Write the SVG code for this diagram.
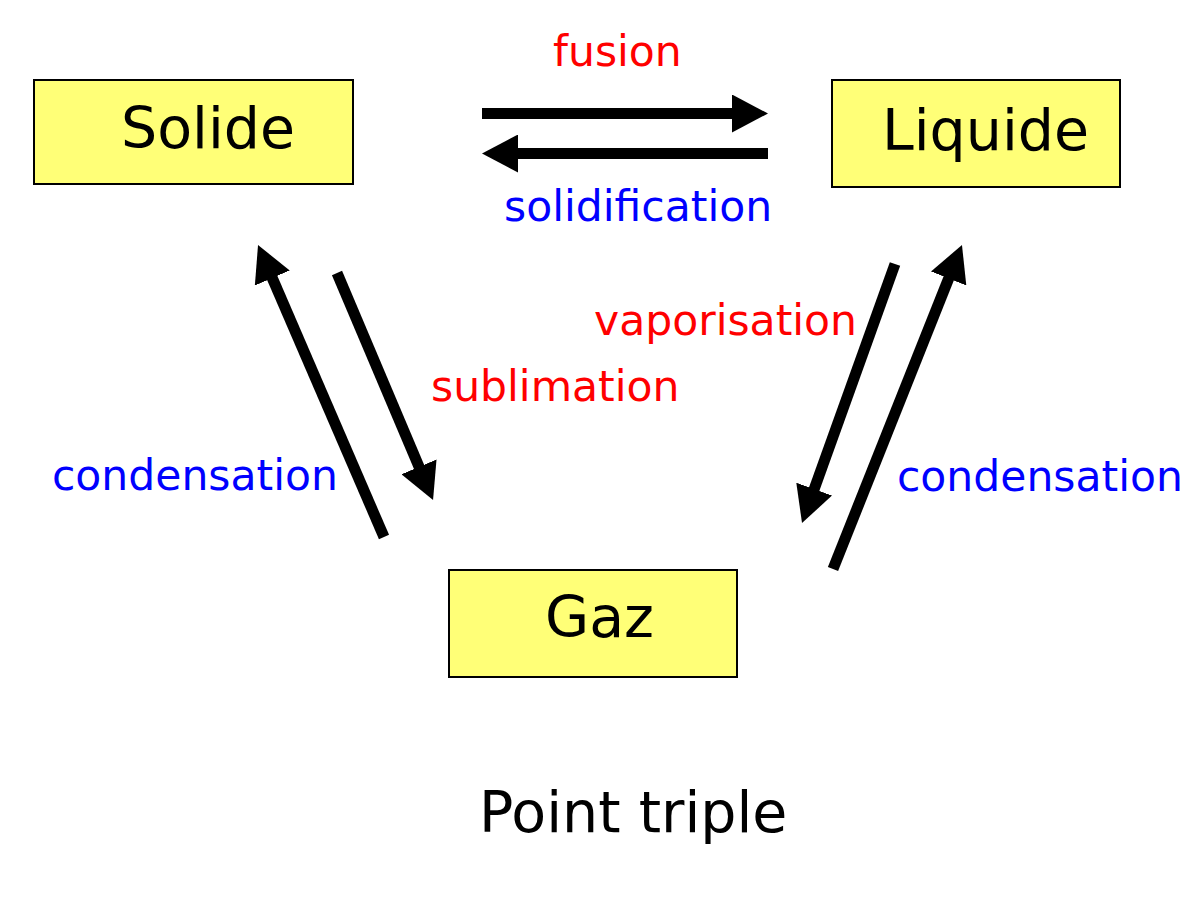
<svg xmlns="http://www.w3.org/2000/svg" width="1200" height="915" viewBox="0 0 1200 915">
<style>
.box{fill:#ffff77;stroke:#000;stroke-width:2}
.node{font-family:"DejaVu Sans",sans-serif;font-size:57px;fill:#000}
.lbl{font-family:"DejaVu Sans",sans-serif;font-size:42.5px}
.red{fill:#ff0000}
.blue{fill:#0000ff}
.arr{stroke:#000;stroke-width:11;fill:none;marker-end:url(#ah)}
</style>
<defs>
<marker id="ah" markerUnits="userSpaceOnUse" viewBox="0 0 36 38" refX="2" refY="19" markerWidth="36" markerHeight="38" orient="auto">
<path d="M0,0 L36,19 L0,38 z" fill="#000"/>
</marker>
</defs>
<rect width="1200" height="915" fill="#fff"/>
<g id="solide"><rect class="box" x="34" y="80" width="319" height="104"/><text class="node" x="121" y="148">Solide</text></g>
<g id="liquide"><rect class="box" x="832" y="80" width="288" height="107"/><text class="node" x="882" y="150">Liquide</text></g>
<g id="gaz"><rect class="box" x="449" y="570" width="288" height="107"/><text class="node" x="545" y="637">Gaz</text></g>
<g id="connectors">
<line class="arr" x1="482" y1="113.5" x2="734" y2="113.5"/>
<line class="arr" x1="768" y1="153.5" x2="516" y2="153.5"/>
<line class="arr" x1="384" y1="537" x2="271.5" y2="276.2"/>
<line class="arr" x1="337" y1="273" x2="419.8" y2="468.7"/>
<line class="arr" x1="895" y1="264" x2="813.5" y2="491"/>
<line class="arr" x1="833" y1="569" x2="949.4" y2="276.6"/>
</g>
<g id="labels">
<text class="lbl red" x="553" y="66">fusion</text>
<text class="lbl blue" x="504" y="221">solidification</text>
<text class="lbl red" x="594" y="335">vaporisation</text>
<text class="lbl red" x="431" y="401">sublimation</text>
<text class="lbl blue" x="52" y="490">condensation</text>
<text class="lbl blue" x="897" y="491">condensation</text>
<text class="node" x="479" y="832">Point triple</text>
</g>
</svg>
